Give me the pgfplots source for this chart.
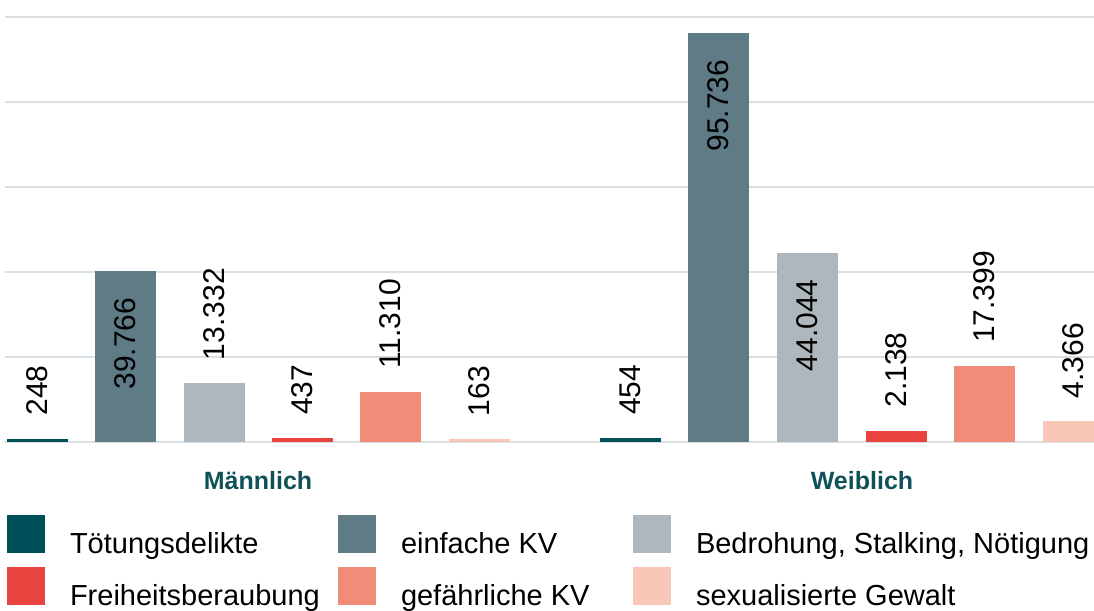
\documentclass[border=0pt]{standalone}
\usepackage{fontspec}
\setmainfont{Liberation Sans}
\usepackage{pgfplots}
\pgfplotsset{compat=1.18}

\definecolor{cA}{HTML}{00505A}
\definecolor{cB}{HTML}{5F7B85}
\definecolor{cC}{HTML}{ADB7BD}
\definecolor{cD}{HTML}{E8433F}
\definecolor{cE}{HTML}{F08C77}
\definecolor{cF}{HTML}{F8C7B8}
\definecolor{grp}{HTML}{0E5157}
\definecolor{gridc}{HTML}{DADFE4}

\begin{document}
\begin{tikzpicture}
\path[use as bounding box] (0,0) rectangle (1094pt,610pt);
\begin{axis}[
    at={(5pt,168.3pt)}, anchor=south west,
    scale only axis,
    width=1089pt, height=425pt,
    xmin=5, xmax=1094,
    ymin=0, ymax=100000,
    enlargelimits=false,
    ybar, bar width=57, bar shift=0pt,
    axis line style={draw=none},
    tick style={draw=none},
    ytick={0,20000,40000,60000,80000,100000},
    yticklabel=\empty,
    scaled y ticks=false,
    ymajorgrids,
    grid style={line width=2pt, draw=gridc},
    xtick={258,862},
    xticklabels={Männlich,Weiblich},
    xticklabel style={anchor=base, yshift=-43.3pt, text=grp,
        font=\fontsize{25}{25}\selectfont\bfseries},
    nodes near coords,
    visualization depends on={value \thisrow{a} \as \anch},
    every node near coord/.append style={rotate=90, anchor=\anch,
        inner xsep=23pt, inner ysep=0pt, text=black,
        font=\fontsize{30}{30}\selectfont},
    /pgf/number format/.cd, fixed, precision=0, 1000 sep={.},
        assume math mode=true,
    /pgfplots/.cd,
    legend columns=3,
    legend cell align=left,
    legend image code/.code={\fill[#1, draw=none] (0pt,-9.5pt) rectangle (38pt,28.5pt);},
    legend style={at={(0,0)}, anchor=north west, xshift=2pt, yshift=-73.3pt,
        draw=none, fill=none, inner sep=0pt, outer sep=0pt,
        row sep=12.5pt,
        nodes={inner sep=0pt},
        font=\fontsize{29}{29}\selectfont,
        /tikz/every odd column/.append style={column sep=25pt}},
]
\addplot[fill=cA, draw=cA, line width=4pt] table {
x y a
37.5 248 west
630.5 454 west
};
\addlegendentry{\makebox[268pt][l]{Tötungsdelikte}}
\addplot[fill=cB, draw=cB, line width=4pt] table {
x y a
125.5 39766 east
718.5 95736 east
};
\addlegendentry{\makebox[232pt][l]{einfache KV}}
\addplot[fill=cC, draw=cC, line width=4pt] table {
x y a
214.5 13332 west
807.5 44044 east
};
\addlegendentry{Bedrohung, Stalking, Nötigung}
\addplot[fill=cD, draw=cD, line width=4pt] table {
x y a
302.5 437 west
896.5 2138 west
};
\addlegendentry{\makebox[268pt][l]{Freiheitsberaubung}}
\addplot[fill=cE, draw=cE, line width=4pt] table {
x y a
390.5 11310 west
984.5 17399 west
};
\addlegendentry{\makebox[232pt][l]{gefährliche KV}}
\addplot[fill=cF, draw=cF, line width=4pt] table {
x y a
479.5 163 west
1073.5 4366 west
};
\addlegendentry{sexualisierte Gewalt}
\end{axis}
\end{tikzpicture}
\end{document}
